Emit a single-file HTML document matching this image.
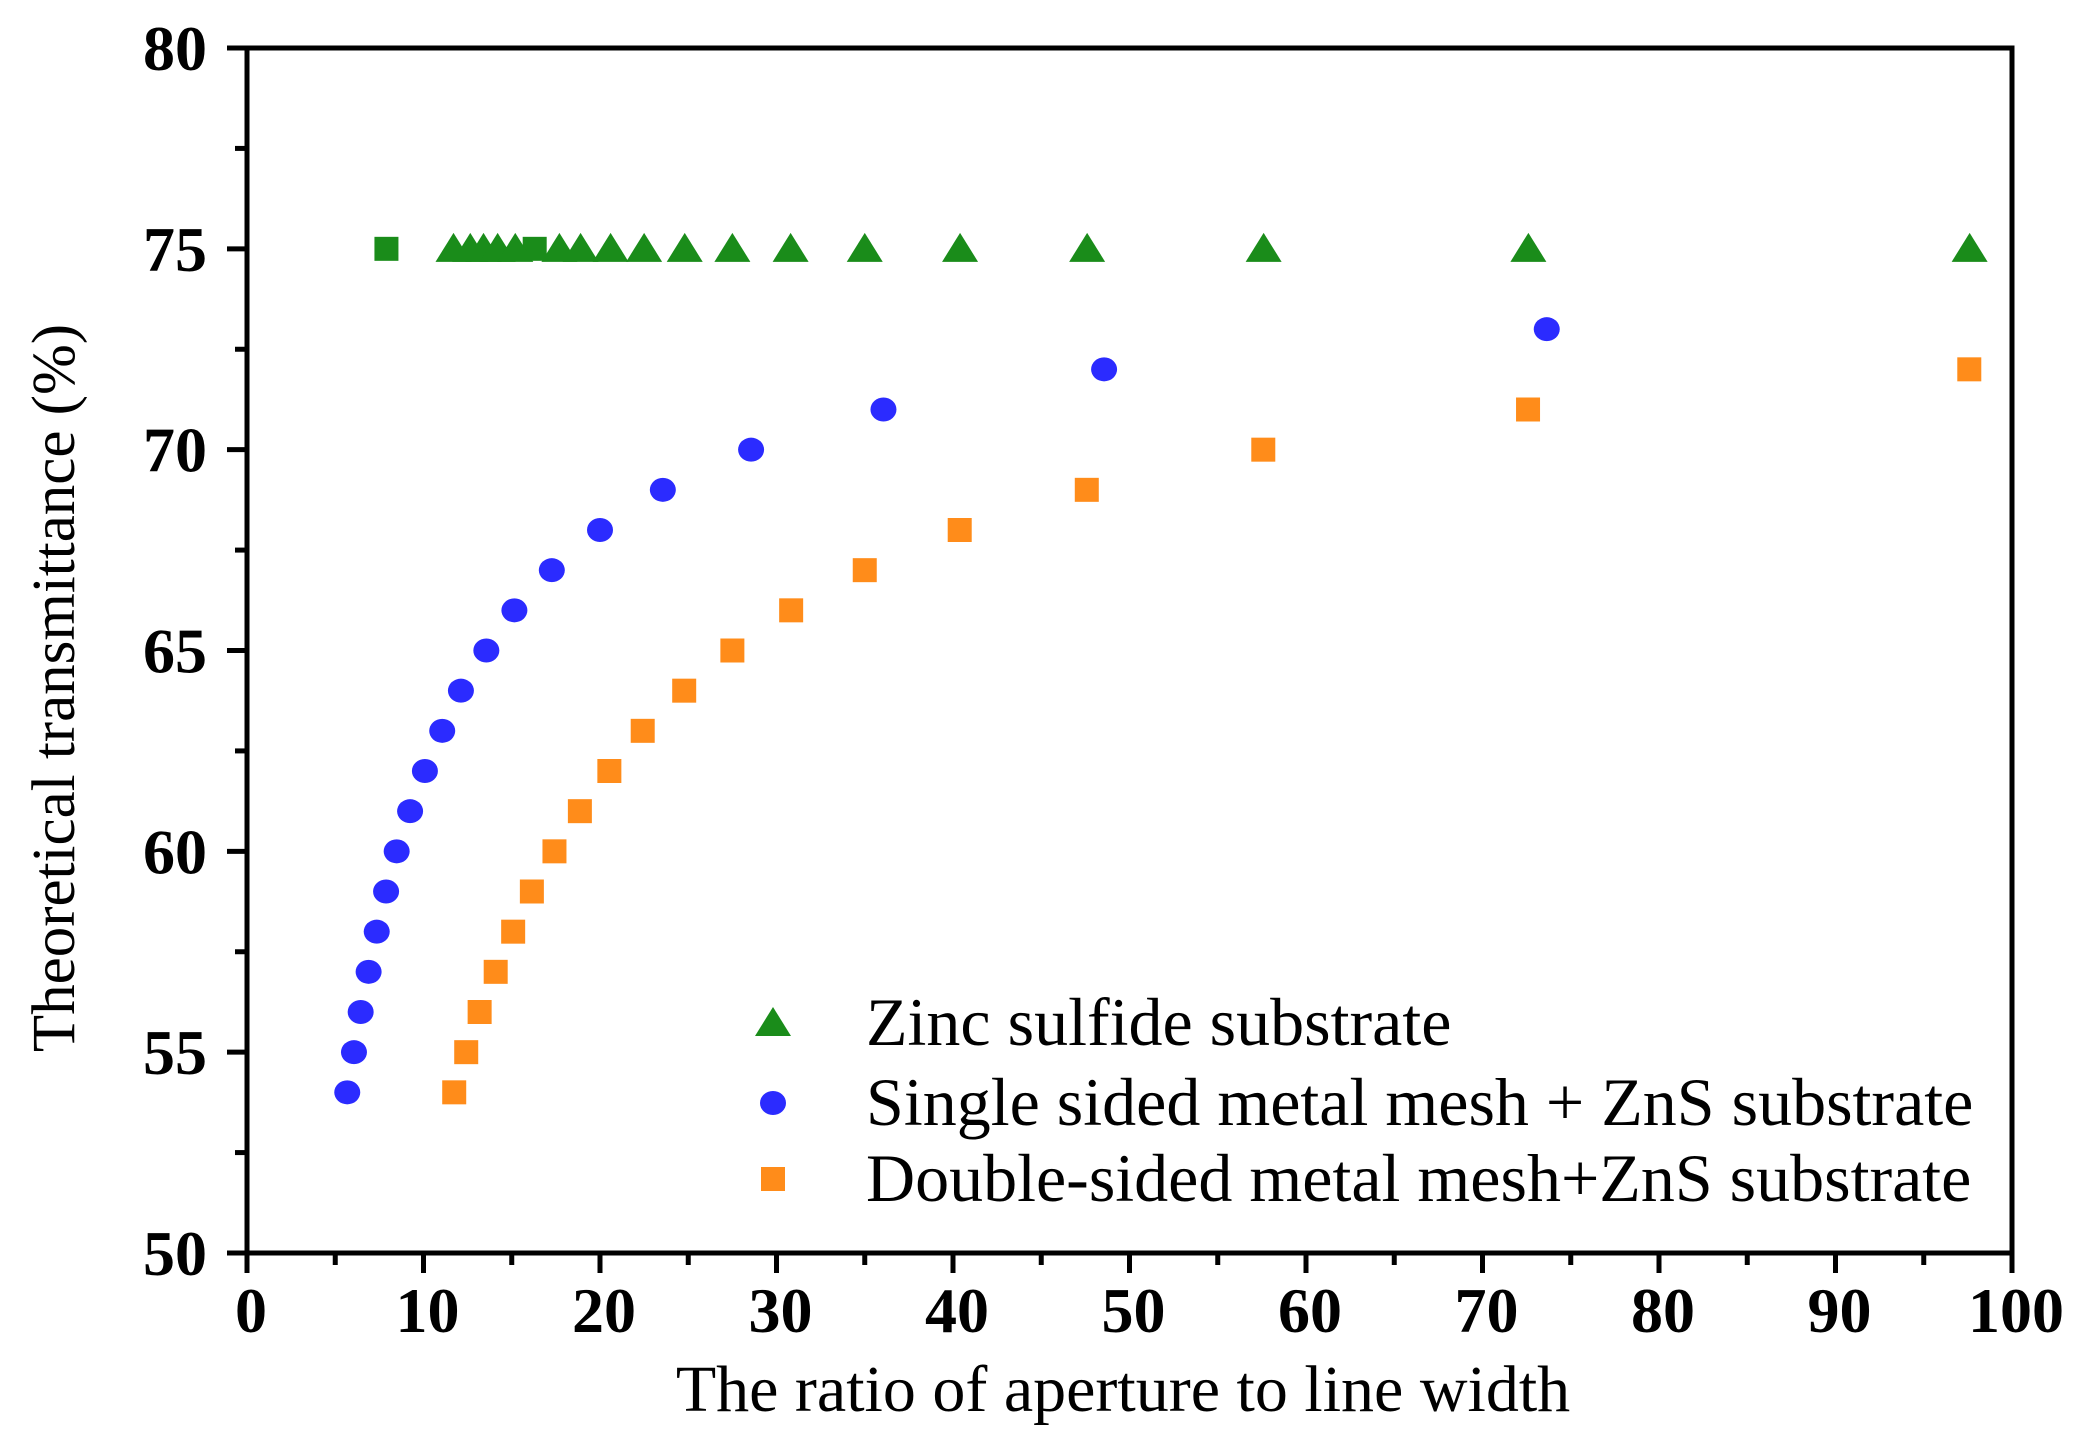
<!DOCTYPE html>
<html><head><meta charset="utf-8">
<style>
html,body{margin:0;padding:0;background:#fff;}
svg{display:block;font-family:"Liberation Serif",serif;}
</style></head>
<body>
<svg id="chart" width="2097" height="1455" viewBox="0 0 2097 1455" xmlns="http://www.w3.org/2000/svg">
<g id="axes"></g>
<g id="marks"></g>
<g id="legend"></g>
</svg>
<script>
const xTicks = [0,10,20,30,40,50,60,70,80,90,100];
const yTicks = [50,55,60,65,70,75,80];
const zincX = [11.7,12.65,13.4,14.2,15.2,17.7,18.9,20.6,22.5,24.8,27.5,30.8,35,40.4,47.6,57.6,72.6,97.6];
const zincY = [75,75,75,75,75,75,75,75,75,75,75,75,75,75,75,75,75,75];
const zincSqX = [7.9,16.3];
const zincSqY = [75,75];
const singleX = [5.68,6.06,6.44,6.89,7.35,7.88,8.48,9.24,10.08,11.06,12.12,13.56,15.15,17.27,20,23.56,28.56,36.06,48.56,73.64];
const singleY = [54,55,56,57,58,59,60,61,62,63,64,65,66,67,68,69,70,71,72,73];
const doubleX = [11.74,12.42,13.18,14.09,15.08,16.14,17.42,18.86,20.53,22.42,24.77,27.5,30.83,35,40.38,47.58,57.58,72.58,97.58];
const doubleY = [54,55,56,57,58,59,60,61,62,63,64,65,66,67,68,69,70,71,72];

const L=247,R=2012,T=48,B=1253;
const sx=v=>L+(v-0)/(100-0)*(R-L);
const sy=v=>B-(v-50)/(80-50)*(B-T);
const NS="http://www.w3.org/2000/svg";
function mk(tag,parent,attrs){const e=document.createElementNS(NS,tag);for(const k in attrs)e.setAttribute(k,attrs[k]);parent.appendChild(e);return e;}
const axes=document.getElementById('axes');
let fr=mk('rect',axes,{x:L,y:T,width:R-L,height:B-T,fill:'none',stroke:'#000','stroke-width':5});


xTicks.forEach(v=>{
  let t=mk('line',axes,{x1:sx(v),x2:sx(v),y1:B,y2:B+20,stroke:'#000','stroke-width':5});
  
  
  let lb=mk('text',axes,{x:sx(v)+4,y:1332,'text-anchor':'middle','font-size':64,'font-weight':'bold'});
  lb.textContent=v;
  
  
});
for(let i=0;i<10;i++){const v=xTicks[i]+5;
  let t=mk('line',axes,{x1:sx(v),x2:sx(v),y1:B,y2:B+12,stroke:'#000','stroke-width':5});
  
  
}
yTicks.forEach(v=>{
  let t=mk('line',axes,{x1:L-20,x2:L,y1:sy(v),y2:sy(v),stroke:'#000','stroke-width':5});
  
  
  let lb=mk('text',axes,{x:207,y:sy(v)+22,'text-anchor':'end','font-size':64,'font-weight':'bold'});
  lb.textContent=v;
  
  
});
for(let i=0;i<6;i++){const v=yTicks[i]+2.5;
  let t=mk('line',axes,{x1:L-12,x2:L,y1:sy(v),y2:sy(v),stroke:'#000','stroke-width':5});
  
  
}
let xt=mk('text',axes,{x:1123,y:1411,'text-anchor':'middle','font-size':66});
xt.textContent='The ratio of aperture to line width';


let yt=mk('text',axes,{x:0,y:0,'text-anchor':'middle','font-size':61,transform:'translate(74,688) rotate(-90)'});
yt.textContent='Theoretical transmittance (%)';



const marks=document.getElementById('marks');
const G='#1a8c1a',BL='#2b2bff',OR='#ff8c1a';
function tri(p,cx,cy,c){return mk('polygon',p,{points:`${cx-18},${cy+13} ${cx+18},${cy+13} ${cx},${cy-16}`,fill:c});}
function sq(p,cx,cy,c){return mk('rect',p,{x:cx-12,y:cy-12,width:24,height:24,fill:c});}
function circ(p,cx,cy,c){return mk('ellipse',p,{cx:cx,cy:cy,rx:13,ry:12,fill:c});}
zincSqX.forEach((x,i)=>{let e=sq(marks,sx(x),sy(zincSqY[i]),G);
  
  });
zincX.forEach((x,i)=>{let e=tri(marks,sx(x),sy(zincY[i]),G);
  
  });
singleX.forEach((x,i)=>{let e=circ(marks,sx(x),sy(singleY[i]),BL);
  
  });
doubleX.forEach((x,i)=>{let e=sq(marks,sx(x),sy(doubleY[i]),OR);
  
  });

const lg=document.getElementById('legend');
const items=[['Zinc sulfide substrate',G,tri,1023,'legend-zinc'],['Single sided metal mesh + ZnS substrate',BL,circ,1103,'legend-single-sided'],['Double-sided metal mesh+ZnS substrate',OR,sq,1179,'legend-double-sided']];
items.forEach(it=>{
  let g=mk('g',lg,{});
  
  
  it[2](g,773,it[3],it[1]);
  let t=mk('text',g,{x:866,y:it[3]+22,'font-size':68});
  t.textContent=it[0];
});
</script>
</body></html>
